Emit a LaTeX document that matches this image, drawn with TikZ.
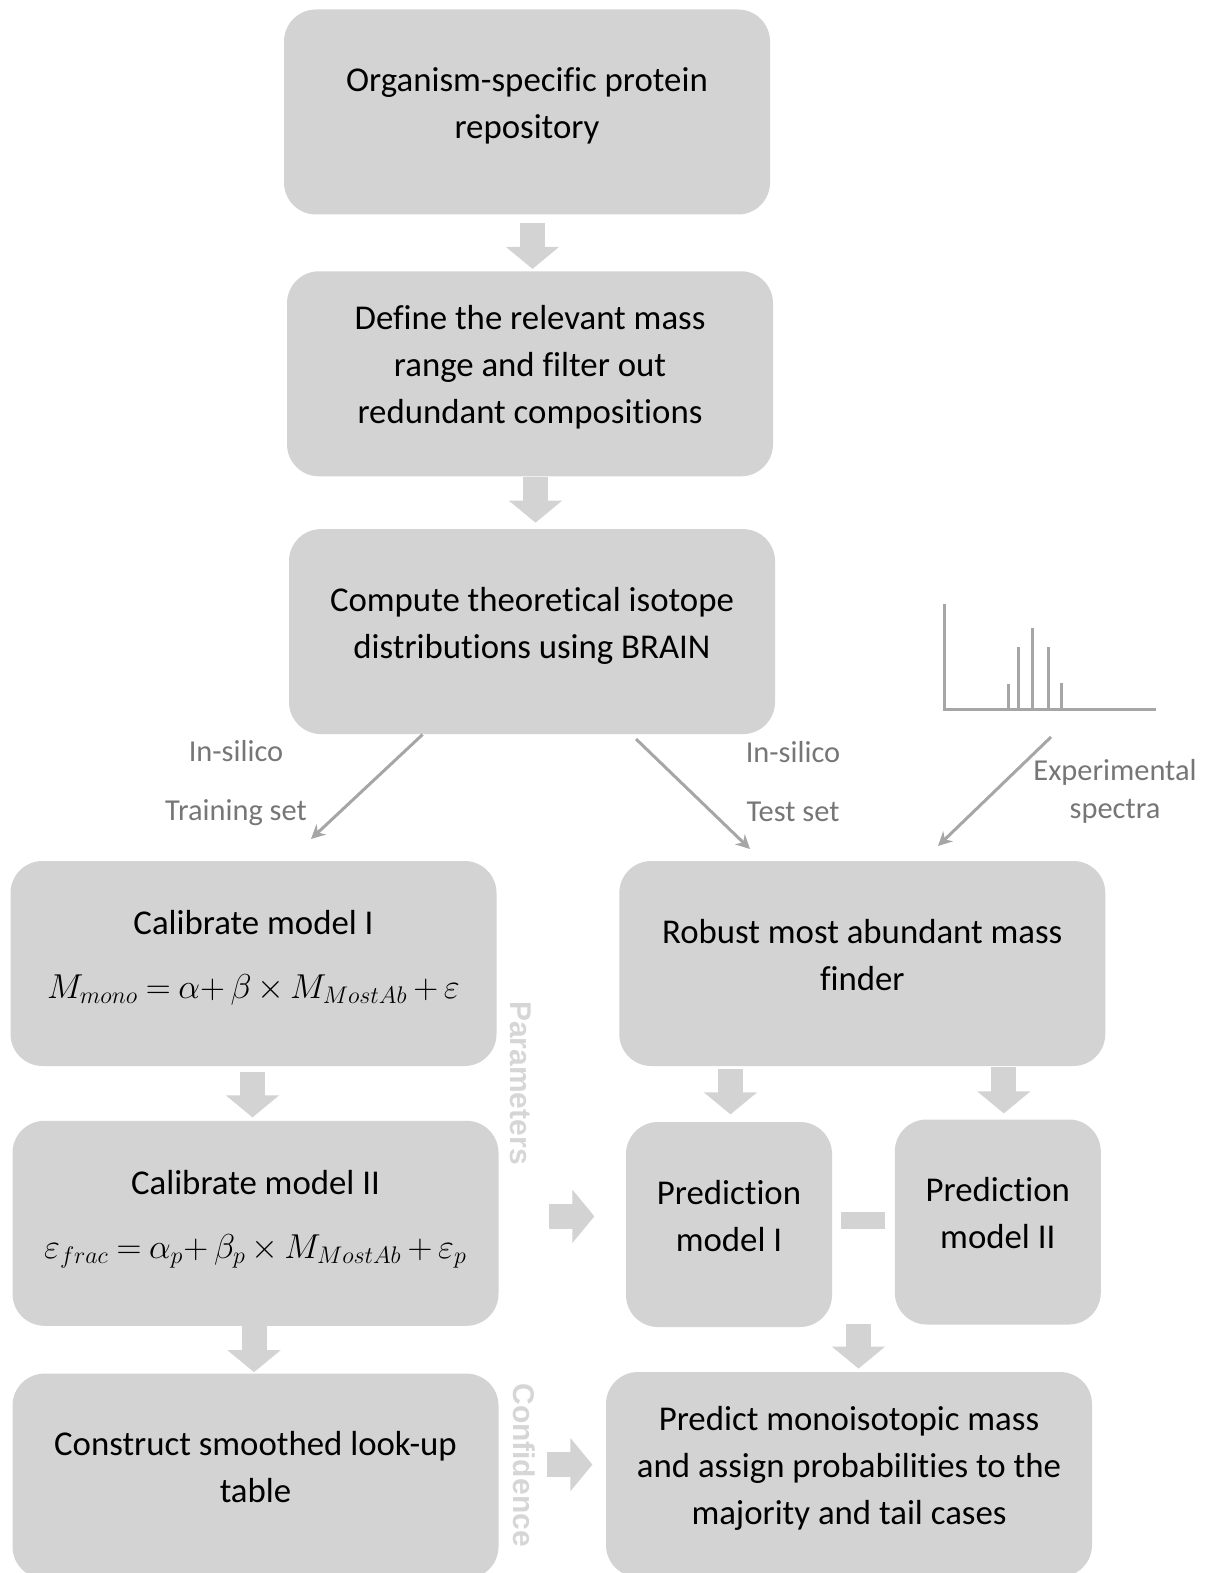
\documentclass[tikz,border=0pt]{standalone}
\usepackage{fontspec}
\setmainfont{Carlito}[Ligatures=NoCommon]
\newfontfamily\sidefont{Liberation Sans}
\usetikzlibrary{positioning, arrows.meta, calc}

\definecolor{boxgray}{RGB}{211,211,211}
\definecolor{labelgray}{RGB}{118,118,118}
\definecolor{linegray}{RGB}{166,166,166}
\definecolor{sidegray}{RGB}{214,214,214}

\medmuskip=3mu plus 2mu minus 4mu
\thickmuskip=4mu plus 5mu

\begin{document}
\begin{tikzpicture}[
    x=0.5pt, y=-0.5pt,
    stage/.style={
        rectangle,
        rounded corners=16pt,
        fill=boxgray,
        minimum width=243pt,
        minimum height=102.5pt,
        align=center,
        text depth=9pt,
        font=\fontsize{17.4pt}{23.5pt}\selectfont
    },
    smallstage/.style={
        stage,
        minimum width=103pt
    },
    fatarrow/.style={draw=boxgray, line width=12.5pt, -{Triangle[length=11pt, width=26pt]}},
    thinarrow/.style={draw=linegray, line width=1.5pt, -{Stealth[length=7pt, width=7pt]}},
    setlabel/.style={
        text=labelgray,
        align=center,
        inner sep=0pt,
        font=\fontsize{15.2pt}{18pt}\selectfont
    },
    sidelabel/.style={
        text=sidegray,
        rotate=-90,
        inner sep=0pt,
        font=\sidefont\bfseries\fontsize{15pt}{18pt}\selectfont
    }
]
\useasboundingbox (0,0) rectangle (1205,1573);

% Data preparation
\node[stage] (repo) at (527,112) {Organism-specific protein\\repository};
\node[stage, below=28pt of repo, xshift=1.5pt] (range) {%
    Define the relevant mass\\
    range and filter out\\
    redundant compositions
};
\node[stage, below=26pt of range, xshift=1pt] (compute) {%
    Compute theoretical isotope\\
    distributions using BRAIN
};

% Calibration (left column)
\node[stage] (calibI) at (253.5,963.5) {%
    Calibrate model I\\[8.5pt]
    $M_{mono}=\alpha{+}\>\beta\times M_{MostAb}+\varepsilon$
};
\node[stage, below=27pt of calibI, xshift=1pt] (calibII) {%
    Calibrate model II\\[8.5pt]
    $\varepsilon_{frac}=\alpha_p{+}\>\beta_p\times M_{MostAb}+\varepsilon_p$
};
\node[stage, below=23.5pt of calibII] (lookup) {%
    Construct smoothed look-up\\
    table
};

% Prediction (right column)
\node[stage, right=61pt of calibI] (robust) {%
    Robust most abundant mass\\
    finder
};
\node[smallstage] (predI) at (729,1224.5) {Prediction\\model I};
\node[smallstage, right=31pt of predI, yshift=1.25pt] (predII) {Prediction\\model II};
\node[fill=boxgray, minimum width=22pt, minimum height=8.5pt, inner sep=0pt, yshift=1.25pt]
    (minus) at ($(predI.east)!0.5!(predII.west)$) {};
\node[stage] (predict) at (849,1474.5) {%
    Predict monoisotopic mass\\
    and assign probabilities to the\\
    majority and tail cases
};

% Spectrum icon
\draw[linegray, line width=1.5pt] (944,604) -- (944,709) -- (1156,709);
\foreach \px/\py in {1008/684, 1018/647, 1032/628, 1048/647, 1061/683}
    \draw[linegray, line width=1.5pt] (\px,709) -- (\px,\py);

% Side labels
\node[sidelabel] (params) at (521,1083) {Parameters};
\node[sidelabel] (confid) at (524,1465) {Confidence};

% Set labels
\node[setlabel] (trainlabel) at (236,783) {In-silico\\[11.5pt]Training set};
\node[setlabel] (testlabel) at (793,782) {In-silico\\[11.5pt]Test set};
\node[setlabel] (explabel) at (1115,791) {Experimental\\[1pt]spectra};

% Thin arrow ends
\coordinate (trainstart) at ($(compute.south west)+(134,0)$);
\coordinate (trainend) at (311,839);
\coordinate (teststart) at (636,739);
\coordinate (testend) at (750,849);
\coordinate (expstart) at (1051,737);
\coordinate (expend) at (938,846);

\draw[thinarrow] (trainstart) -- (trainend);
\draw[thinarrow] (teststart) -- (testend);
\draw[thinarrow] (expstart) -- (expend);

% Block arrows
\draw[fatarrow] ($(repo.south)+(5.5,8)$) -- ++(0,46);
\draw[fatarrow] ($(range.south)+(5.5,0)$) -- ++(0,46);
\draw[fatarrow] ($(calibI.south)+(-1,6)$) -- ++(0,45);
\draw[fatarrow] ($(calibII.south)+(-1.5,0)$) -- ++(0,46);
\draw[fatarrow] ($(robust.south -| predI.north)+(1.5,3)$) -- ++(0,45);
\draw[fatarrow] ($(robust.south -| predII.north)+(6,1)$) -- ++(0,46);
\draw[fatarrow] ($(predict.north)+(9.5,-48)$) -- ++(0,45);
\draw[fatarrow] ($(calibII.east)+(50.5,-7)$) -- ++(45,0);
\draw[fatarrow] ($(lookup.east)+(48.5,-11.5)$) -- ++(45,0);

\end{tikzpicture}
\end{document}
